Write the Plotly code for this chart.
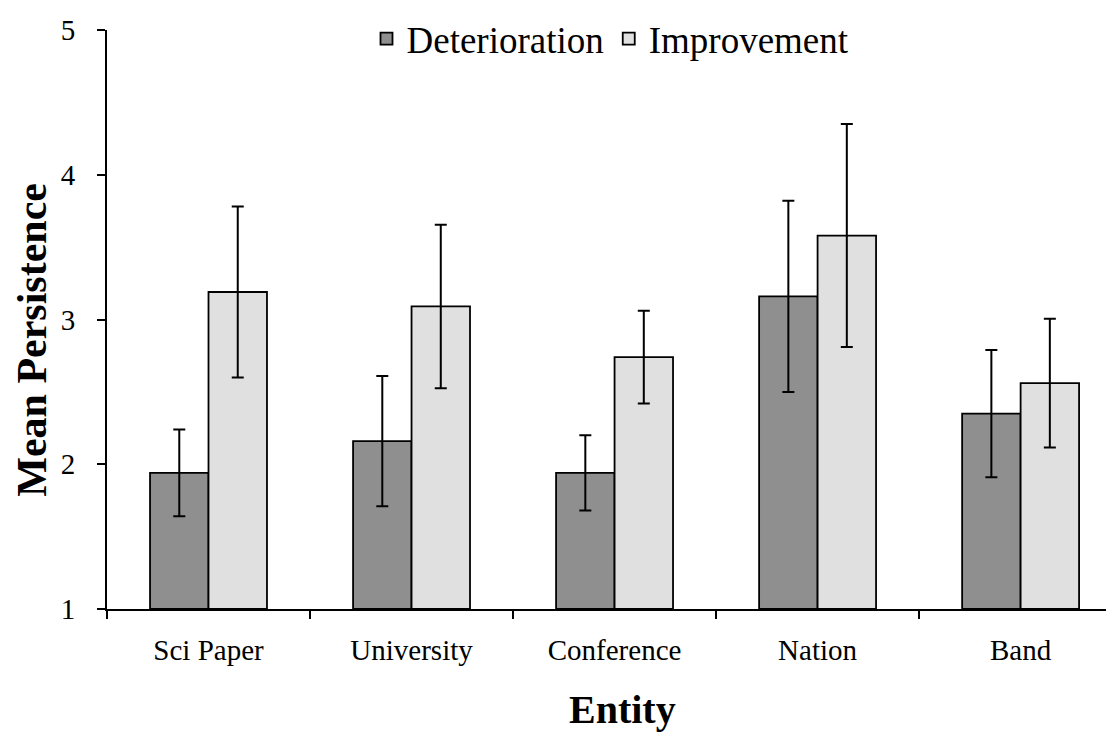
import plotly.graph_objects as go

categories = ["Sci Paper", "University", "Conference", "Nation", "Band"]
deterioration = [1.94, 2.16, 1.94, 3.16, 2.35]
deterioration_err = [0.30, 0.45, 0.26, 0.66, 0.44]
improvement = [3.19, 3.09, 2.74, 3.58, 2.56]
improvement_err = [0.59, 0.565, 0.32, 0.77, 0.445]

FONT = "Liberation Serif"

fig = go.Figure()
fig.add_trace(go.Bar(
    name="Deterioration", x=categories, y=[v - 1 for v in deterioration], base=1,
    marker=dict(color="#8f8f8f", line=dict(color="black", width=1.8)),
    error_y=dict(type="data", array=deterioration_err, color="black", thickness=2, width=6),
))
fig.add_trace(go.Bar(
    name="Improvement", x=categories, y=[v - 1 for v in improvement], base=1,
    marker=dict(color="#e0e0e0", line=dict(color="black", width=1.8)),
    error_y=dict(type="data", array=improvement_err, color="black", thickness=2, width=6),
))

fig.update_layout(
    width=1106, height=728,
    margin=dict(l=99, r=0, t=13, b=127),
    paper_bgcolor="white", plot_bgcolor="white",
    barmode="group", bargap=0.424, bargroupgap=0,
    font=dict(family=FONT, color="black", size=29),
    showlegend=True,
    legend=dict(orientation="h", x=0.5, xanchor="center", y=0.985, yanchor="middle",
                font=dict(size=37, family=FONT, color="black"), bgcolor="rgba(0,0,0,0)",
                itemwidth=30, tracegroupgap=0),
    xaxis=dict(range=[-0.5, 4.46], showline=True, linecolor="black", linewidth=2,
               ticks="outside", tickson="boundaries", ticklen=8, tickwidth=2, tickcolor="black",
               showgrid=False, zeroline=False, ticklabelstandoff=14,
               tickfont=dict(size=29, family=FONT)),
    yaxis=dict(range=[1, 5], dtick=1, showline=True, linecolor="black", linewidth=2,
               ticks="outside", ticklen=8, tickwidth=2, tickcolor="black",
               showgrid=False, zeroline=False, ticklabelstandoff=16,
               tickfont=dict(size=29, family=FONT)),
    annotations=[
        dict(text="<b>Mean Persistence</b>", xref="paper", yref="paper",
             x=-0.0745, y=0.465, textangle=-90, showarrow=False,
             font=dict(size=42, family=FONT), xanchor="center", yanchor="middle"),
        dict(text="<b>Entity</b>", xref="paper", yref="paper",
             x=0.512, y=-0.174, showarrow=False,
             font=dict(size=40, family=FONT), xanchor="center", yanchor="middle"),
    ],
)

fig.write_html("out.html")
